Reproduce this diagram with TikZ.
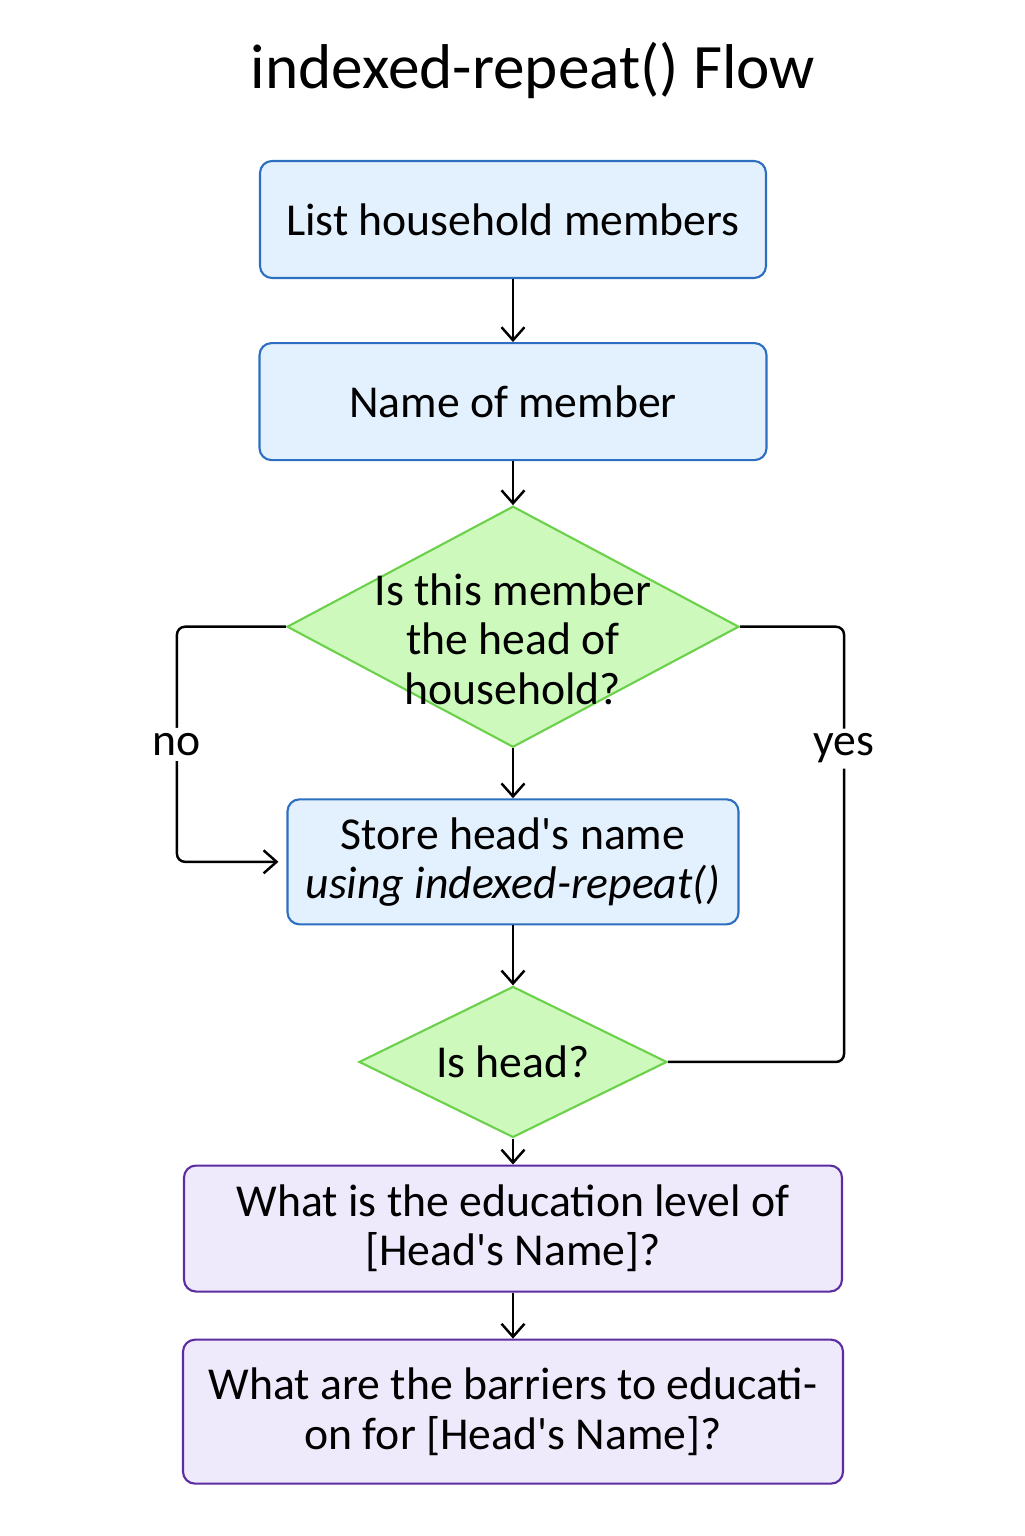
\documentclass[tikz,border=0pt]{standalone}
\usepackage{fontspec}
\setmainfont{Carlito}
\usetikzlibrary{positioning, shapes.geometric, arrows.meta}
\definecolor{boxblue}{HTML}{E3F0FD}
\definecolor{lineblue}{HTML}{2C6FC1}
\definecolor{boxgreen}{HTML}{CDF9BD}
\definecolor{linegreen}{HTML}{6CD14A}
\definecolor{boxpurple}{HTML}{EEEAFC}
\definecolor{linepurple}{HTML}{5B2DA0}
\newcommand{\apos}{\textquotesingle}

\begin{document}
\begin{tikzpicture}[
     node distance = 1cm and 1cm,
       font = \fontsize{26}{28}\selectfont,
        box/.style = {rectangle, rounded corners=0.24cm, draw=lineblue, fill=boxblue,
                      line width=1.2pt, align=center, inner sep=0pt},
       pbox/.style = {box, draw=linepurple, fill=boxpurple},
     decide/.style = {diamond, draw=linegreen, fill=boxgreen, line width=1.2pt,
                      align=center, inner sep=-10pt},
        arr/.style = {line width=1.4pt, -{Straight Barb[length=2.6mm,width=4.6mm]}},
       link/.style = {line width=1.4pt, rounded corners=0.16cm}
                        ]
\useasboundingbox (0,0) rectangle (20.48,-30.72);
\node (title) at (10.66,-1.4) {\fontsize{36}{40}\selectfont indexed-repeat() Flow};
\node (list)  [box, minimum width=10.12cm, minimum height=2.34cm] at (10.26,-4.39) {List household members};
\node (name)  [box, minimum width=10.14cm, minimum height=2.34cm, below=1.26cm of list] {Name of member};
\node (ishead)[decide, minimum width=9.04cm, minimum height=4.82cm, aspect=1.875, inner sep=-20pt,
               text height=88pt, text depth=0pt, below=0.88cm of name]
              {Is this member\\the head of\\household?};
\node (store) [box, minimum width=9.02cm, minimum height=2.5cm, below=1.0cm of ishead]
              {Store head\apos s name\\\itshape using indexed-repeat()};
\node (check) [decide, minimum width=6.16cm, minimum height=3.02cm, aspect=2.04, below=1.2cm of store] {Is head?};
\node (edu)   [pbox, minimum width=13.16cm, minimum height=2.52cm, below=0.52cm of check]
              {What is the education level of\\{}[Head\apos s Name]?};
\node (barr)  [pbox, minimum width=13.2cm, minimum height=2.88cm, below=0.92cm of edu]
              {What are the barriers to educati-\\on for [Head\apos s Name]?};
% main line
\draw[arr] (list) -- (name);
\draw[arr] (name) -- (ishead);
\draw[arr] (ishead) -- (store);
\draw[arr] (store) -- (check);
\draw[arr] (check) -- (edu);
\draw[arr] (edu) -- (barr);
% branches
\draw[link, arr, shorten >=0.16cm] (ishead.west) -- ++(-2.18,0) |- (store.west)
      node[pos=0.25, fill=white, inner sep=3pt] {no};
\draw[link] (ishead.east) -- ++(2.08,0) |- (check.east)
      node[pos=0.14, fill=white, inner sep=3pt] {yes};
\end{tikzpicture}
\end{document}
